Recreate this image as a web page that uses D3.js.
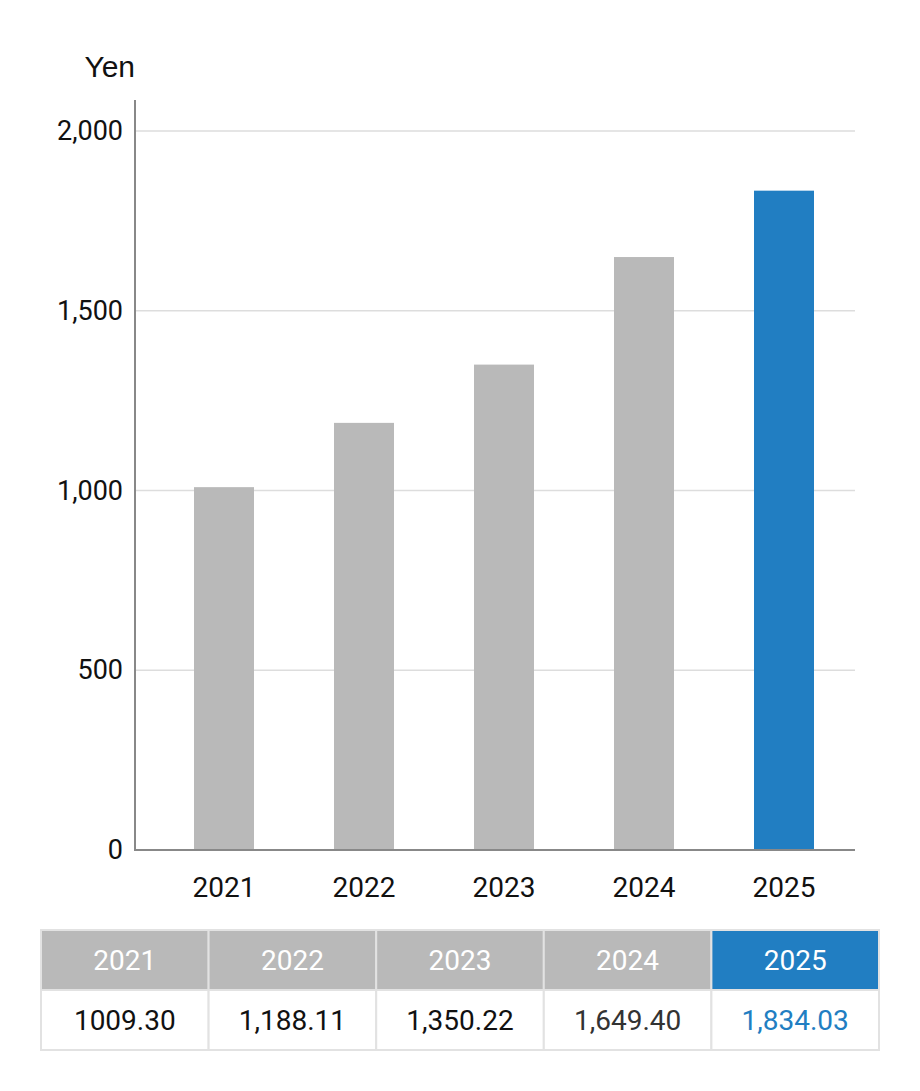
<!DOCTYPE html>
<html>
<head>
<meta charset="utf-8">
<script src="https://cdn.jsdelivr.net/npm/d3@7"></script>
<style>
  body { margin: 0; background: #fff; }
  svg text { font-family: Roboto, "Noto Sans", sans-serif; }
</style>
</head>
<body>
<script>
// chart data
var years = ["2021", "2022", "2023", "2024", "2025"];
var values = [1009.30, 1188.11, 1350.22, 1649.40, 1834.03];
var valueLabels = ["1009.30", "1,188.11", "1,350.22", "1,649.40", "1,834.03"];
var yTicks = [0, 500, 1000, 1500, 2000];

var width = 920;
var height = 1091;
var gray = "#b9b9b9";
var blue = "#217ec2";

var svg = d3.select("body").append("svg")
  .attr("width", width)
  .attr("height", height);

// scales
var y = d3.scaleLinear().domain([0, 2000]).range([850, 131]);
var x = d3.scaleBand().domain(years).range([154, 854])
  .paddingInner(4 / 7).paddingOuter(2 / 7);

// gridlines
svg.append("g").selectAll("line")
  .data(yTicks.filter(function(d) { return d > 0; }))
  .enter().append("line")
  .attr("x1", 135).attr("x2", 855)
  .attr("y1", function(d) { return y(d); })
  .attr("y2", function(d) { return y(d); })
  .attr("stroke", "#dddddd")
  .attr("stroke-width", 1.5);

// bars
svg.append("g").selectAll("rect")
  .data(values)
  .enter().append("rect")
  .attr("x", function(d, i) { return x(years[i]); })
  .attr("width", x.bandwidth())
  .attr("y", function(d) { return y(d); })
  .attr("height", function(d) { return y(0) - y(d); })
  .attr("fill", function(d, i) { return i === years.length - 1 ? blue : gray; });

// y axis
var yAxis = svg.append("g")
  .attr("transform", "translate(135,0)")
  .call(d3.axisLeft(y).tickValues(yTicks).tickSize(0).tickPadding(12)
    .tickFormat(d3.format(",")));
yAxis.select(".domain").remove();
yAxis.selectAll("text").attr("font-size", 27).attr("fill", "#111");

svg.append("line")
  .attr("x1", 135).attr("x2", 135)
  .attr("y1", 100).attr("y2", 851)
  .attr("stroke", "#888").attr("stroke-width", 2);

// x axis
var xAxis = svg.append("g")
  .attr("transform", "translate(0,850)")
  .call(d3.axisBottom(x).tickSize(0).tickPadding(24));
xAxis.select(".domain").remove();
xAxis.selectAll("text")
  .attr("font-size", 28).attr("fill", "#111")
  .attr("dy", null).attr("y", 47);

svg.append("line")
  .attr("x1", 134).attr("x2", 855)
  .attr("y1", 850).attr("y2", 850)
  .attr("stroke", "#888").attr("stroke-width", 2);

// unit label
svg.append("text")
  .attr("x", 135).attr("y", 77)
  .attr("text-anchor", "end")
  .attr("font-size", 30)
  .attr("fill", "#111")
  .style("font-family", "'Liberation Sans', Arial, sans-serif")
  .text("Yen");

// data table below
var tx = d3.scaleBand().domain(years).range([41, 879]);
var headTop = 930, rowH = 60;

var cells = svg.append("g").selectAll("g")
  .data(years)
  .enter().append("g");

cells.append("rect")
  .attr("x", function(d) { return tx(d); })
  .attr("y", headTop)
  .attr("width", tx.bandwidth())
  .attr("height", rowH)
  .attr("fill", function(d, i) { return i === years.length - 1 ? blue : gray; })
  .attr("stroke", "#e2e2e2").attr("stroke-width", 2);

cells.append("rect")
  .attr("x", function(d) { return tx(d); })
  .attr("y", headTop + rowH)
  .attr("width", tx.bandwidth())
  .attr("height", rowH)
  .attr("fill", "#fff")
  .attr("stroke", "#e2e2e2").attr("stroke-width", 2);

cells.append("text")
  .attr("x", function(d) { return tx(d) + tx.bandwidth() / 2; })
  .attr("y", headTop + rowH / 2 + 10)
  .attr("text-anchor", "middle")
  .attr("font-size", 28)
  .attr("fill", "#fff")
  .text(function(d) { return d; });

var valueColors = ["#111", "#111", "#111", "#333", blue];
cells.append("text")
  .attr("x", function(d) { return tx(d) + tx.bandwidth() / 2; })
  .attr("y", headTop + rowH * 1.5 + 10)
  .attr("text-anchor", "middle")
  .attr("font-size", 28)
  .attr("fill", function(d, i) { return valueColors[i]; })
  .text(function(d, i) { return valueLabels[i]; });
</script>
</body>
</html>
